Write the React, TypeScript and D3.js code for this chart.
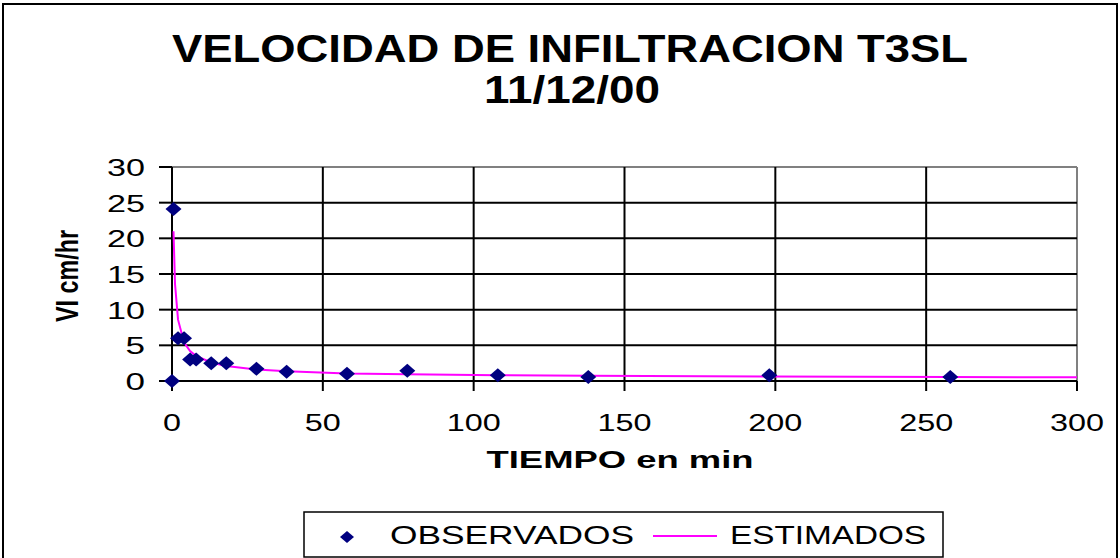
import React from 'react';
import * as d3 from 'd3';

// observed infiltration rate (cm/hr) vs time (min)
const obsTime = [0, 0.5, 2, 4, 6, 8, 13, 18, 28, 38, 58, 78, 108, 138, 198, 258];
const obsRate = [0, 24.1, 6.0, 6.0, 3.0, 3.0, 2.5, 2.5, 1.7, 1.3, 1.0, 1.45, 0.8, 0.55, 0.8, 0.55];

// estimated (fitted) curve
const estTime = [0.5, 1, 2, 4, 6, 8, 13, 18, 28, 38, 58, 78, 108, 138, 198, 258, 300];
const estRate = [21.0, 13.6, 8.6, 5.4, 4.2, 3.5, 2.6, 2.1, 1.6, 1.35, 1.05, 0.95, 0.82, 0.74, 0.63, 0.56, 0.52];

const xTicks = [0, 50, 100, 150, 200, 250, 300];
const yTicks = [0, 5, 10, 15, 20, 25, 30];

const W = 1120;
const H = 558;
const plot = { left: 172, right: 1077, top: 167, bottom: 381 };
const font = '"Liberation Sans", Arial, sans-serif';
const navy = '#000080';
const magenta = '#FF00FF';

const diamond = (cx: number, cy: number, w = 8, h = 7) =>
  `M${cx - w},${cy} L${cx},${cy - h} L${cx + w},${cy} L${cx},${cy + h} Z`;

export default function App() {
  const x = d3.scaleLinear().domain([0, 300]).range([plot.left, plot.right]);
  const y = d3.scaleLinear().domain([0, 30]).range([plot.bottom, plot.top]);

  const line = d3
    .line<number>()
    .x((_, i) => x(estTime[i]))
    .y((d) => y(d));

  // the picture's text is drawn wide, so stretch it with textLength
  const digitW = 18.5;

  return (
    <svg
      width={W}
      height={H}
      style={{ position: 'absolute', left: 0, top: 0, background: '#fff' }}
      fontFamily={font}
    >
      {/* outer frame */}
      <rect x={3} y={4} width={1114} height={560} fill="#fff" stroke="#000" strokeWidth={2} />

      {/* title */}
      <text x={570} y={62} textAnchor="middle" fontSize={38} fontWeight="bold" textLength={796} lengthAdjust="spacingAndGlyphs">
        VELOCIDAD DE INFILTRACION T3SL
      </text>
      <text x={572} y={103} textAnchor="middle" fontSize={38} fontWeight="bold" textLength={176} lengthAdjust="spacingAndGlyphs">
        11/12/00
      </text>

      {/* plot border (grey top/right) */}
      <line x1={plot.left} x2={plot.right} y1={plot.top} y2={plot.top} stroke="#808080" strokeWidth={2} />
      <line x1={plot.right} x2={plot.right} y1={plot.top} y2={plot.bottom} stroke="#808080" strokeWidth={2} />

      {/* horizontal grid + y ticks */}
      {yTicks.map((t) => (
        <g key={'y' + t}>
          {t > 0 && t < 30 && (
            <line x1={plot.left} x2={plot.right} y1={y(t)} y2={y(t)} stroke="#000" strokeWidth={2} />
          )}
          <line x1={plot.left - 13} x2={plot.left} y1={y(t)} y2={y(t)} stroke="#000" strokeWidth={2} />
          <text
            x={145}
            y={y(t) + 9}
            textAnchor="end"
            fontSize={24}
            textLength={String(t).length * digitW + 1}
            lengthAdjust="spacingAndGlyphs"
          >
            {t}
          </text>
        </g>
      ))}

      {/* vertical grid + x ticks */}
      {xTicks.map((t) => (
        <g key={'x' + t}>
          {t > 0 && t < 300 && (
            <line x1={x(t)} x2={x(t)} y1={plot.top} y2={plot.bottom} stroke="#000" strokeWidth={2} />
          )}
          <line x1={x(t)} x2={x(t)} y1={plot.bottom} y2={plot.bottom + 10} stroke="#000" strokeWidth={2} />
          <text
            x={x(t)}
            y={431}
            textAnchor="middle"
            fontSize={24}
            textLength={String(t).length * 18}
            lengthAdjust="spacingAndGlyphs"
          >
            {t}
          </text>
        </g>
      ))}

      {/* axes */}
      <line x1={plot.left} x2={plot.left} y1={plot.top} y2={plot.bottom + 10} stroke="#000" strokeWidth={2} />
      <line x1={plot.left} x2={plot.right} y1={plot.bottom} y2={plot.bottom} stroke="#000" strokeWidth={2} />

      {/* estimated curve */}
      <path d={line(estRate) || ''} fill="none" stroke={magenta} strokeWidth={2} />

      {/* observed points */}
      {obsTime.map((t, i) => (
        <path key={'o' + i} d={diamond(x(t), y(obsRate[i]))} fill={navy} />
      ))}

      {/* axis titles */}
      <text x={620} y={468} textAnchor="middle" fontSize={24} fontWeight="bold" textLength={267} lengthAdjust="spacingAndGlyphs">
        TIEMPO en min
      </text>
      <text
        transform={`translate(78,276) rotate(-90)`}
        textAnchor="middle"
        fontSize={31}
        fontWeight="bold"
        textLength={92}
        lengthAdjust="spacingAndGlyphs"
      >
        VI cm/hr
      </text>

      {/* legend */}
      <rect x={304} y={512} width={639} height={45} fill="#fff" stroke="#000" strokeWidth={1.5} />
      <path d={diamond(347, 537, 7, 6)} fill={navy} />
      <text x={390} y={544} fontSize={26} textLength={244} lengthAdjust="spacingAndGlyphs">
        OBSERVADOS
      </text>
      <line x1={653} x2={717} y1={536} y2={536} stroke={magenta} strokeWidth={2} />
      <text x={730} y={544} fontSize={26} textLength={196} lengthAdjust="spacingAndGlyphs">
        ESTIMADOS
      </text>
    </svg>
  );
}
